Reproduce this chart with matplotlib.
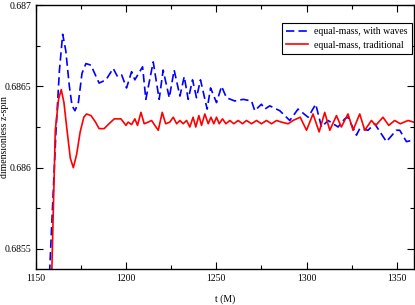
import matplotlib
matplotlib.use("Agg")
import matplotlib.pyplot as plt
from matplotlib.ticker import MultipleLocator, FuncFormatter

plt.rcParams['font.family'] = ['Liberation Serif', 'DejaVu Serif']

# equal-mass, traditional (red)
t_trad = [1158.4, 1160.7, 1162.5, 1164.0, 1165.5, 1167.0, 1169.0, 1170.7, 1172.5,
          1174.5, 1176.5, 1178.0, 1180.5, 1183.0, 1185.0, 1187.8, 1190.5, 1193.4,
          1197.1, 1199.9, 1201.1, 1203.0, 1204.8, 1206.3, 1208.2, 1210.0, 1212.2,
          1214.1, 1215.9, 1217.8, 1220.0, 1221.9, 1224.2, 1226.1, 1228.0, 1229.8,
          1231.6, 1233.5, 1235.3, 1237.1, 1238.6, 1240.3, 1241.8, 1243.6, 1245.5,
          1247.0, 1248.6, 1250.1, 1251.6, 1253.4, 1255.3, 1257.5, 1259.7, 1262.1,
          1264.5, 1266.7, 1269.5, 1272.3, 1275.0, 1277.8, 1280.6, 1283.4, 1286.1,
          1289.8, 1292.5, 1296.5, 1300.0, 1303.6, 1307.0, 1310.1, 1312.9, 1316.6,
          1319.3, 1323.0, 1325.8, 1329.5, 1332.3, 1336.0, 1338.4, 1342.4, 1345.6,
          1348.9, 1352.0, 1356.3, 1359.4]
s_trad = [0.68520, 0.68623, 0.68642, 0.68648, 0.68640, 0.68625, 0.68606, 0.68600, 0.68608,
          0.68622, 0.68631, 0.68633, 0.68632, 0.68628, 0.68624, 0.68624, 0.68627, 0.68630,
          0.68630, 0.68626, 0.68628, 0.686265, 0.68630, 0.68626, 0.68634, 0.68627, 0.68628,
          0.68629, 0.68626, 0.68623, 0.68634, 0.68627, 0.68628, 0.68631, 0.68627, 0.68629,
          0.68627, 0.68629, 0.68625, 0.68631, 0.68625, 0.68632, 0.68626, 0.68633, 0.68627,
          0.68631, 0.68627, 0.68631, 0.68627, 0.68630, 0.68627, 0.68629, 0.68627, 0.68629,
          0.68627, 0.68629, 0.68627, 0.68629, 0.68627, 0.68629, 0.68627, 0.68629, 0.68628,
          0.68627, 0.68629, 0.68631, 0.68623, 0.68633, 0.68622, 0.68634, 0.68623, 0.68632,
          0.68625, 0.68633, 0.68623, 0.68633, 0.68623, 0.68629, 0.68626, 0.68631, 0.68626,
          0.68629, 0.68627, 0.68629, 0.68628]

# equal-mass, with waves (blue dashed)
t_waves = [1156.9, 1161.1, 1163.0, 1164.8, 1166.5, 1168.5, 1170.0, 1171.6, 1173.5,
           1175.5, 1177.7, 1180.5, 1182.5, 1185.0, 1188.8, 1192.8, 1195.2, 1197.5,
           1200.2, 1203.0, 1204.8, 1209.1, 1210.9, 1215.0, 1218.3, 1220.5, 1223.9,
           1226.6, 1229.8, 1232.2, 1234.4, 1236.8, 1239.0, 1241.2, 1244.9, 1246.8,
           1250.1, 1252.9, 1255.6, 1260.2, 1264.9, 1269.5, 1271.3, 1275.0, 1276.9,
           1279.6, 1285.2, 1290.7, 1295.3, 1300.9, 1305.1, 1308.3, 1312.0, 1317.5,
           1321.2, 1323.0, 1327.7, 1329.5, 1334.1, 1337.8, 1344.3, 1349.8, 1351.7,
           1355.4, 1359.4]
s_waves = [0.68520, 0.68623, 0.68660, 0.68682, 0.68672, 0.68650, 0.68638, 0.68635, 0.68640,
           0.68658, 0.68664, 0.68663, 0.68658, 0.68652, 0.68654, 0.68661, 0.68656, 0.68657,
           0.68649, 0.68659, 0.68654, 0.68662, 0.68642, 0.68665, 0.68642, 0.68660, 0.68643,
           0.68660, 0.68644, 0.68656, 0.68642, 0.68654, 0.68643, 0.68654, 0.68636, 0.68649,
           0.68640, 0.68650, 0.68643, 0.68641, 0.68642, 0.68641, 0.68635, 0.68639, 0.68636,
           0.68638, 0.68635, 0.68629, 0.68636, 0.68631, 0.68639, 0.68625, 0.68629, 0.68625,
           0.68630, 0.68631, 0.68620, 0.68624, 0.68623, 0.68627, 0.68616, 0.68623, 0.68623,
           0.68616, 0.68617]

fig = plt.figure(figsize=(4.15, 3.05), dpi=100)
ax = fig.add_axes([36 / 415, 1 - 269 / 305, 378 / 415, 264 / 305])

ax.plot(t_waves, s_waves, color='#0000ff', linestyle=(0, (5, 2.5)), linewidth=1.2,
        label='equal-mass, with waves')
ax.plot(t_trad, s_trad, color='#ff0000', linewidth=1.2, label='equal-mass, traditional')

ax.set_xlim(1150, 1359.6)
ax.set_ylim(0.685377, 0.687)

ax.xaxis.set_major_locator(MultipleLocator(50))
ax.xaxis.set_minor_locator(MultipleLocator(25))
ax.yaxis.set_major_locator(MultipleLocator(0.0005))
ax.yaxis.set_minor_locator(MultipleLocator(0.00025))
ax.yaxis.set_major_formatter(FuncFormatter(lambda v, p: '%g' % round(v, 5)))

ax.tick_params(which='both', direction='in', top=True, right=True, labelsize=7, width=0.8)
ax.tick_params(which='major', length=5)
ax.tick_params(which='minor', length=3)
for sp in ax.spines.values():
    sp.set_linewidth(1.0)

ax.set_xlabel('t (M)', fontsize=7, labelpad=8)
ax.set_ylabel('dimensionless z-spin', fontsize=7)
ax.yaxis.set_label_coords(-0.072, 0.5)

leg = ax.legend(loc='upper right', bbox_to_anchor=(0.995, 0.932), fontsize=7,
                fancybox=False, framealpha=1, edgecolor='black', borderaxespad=0,
                handlelength=2.3, handletextpad=0.6, borderpad=0.45, labelspacing=0.45)
leg.get_frame().set_linewidth(0.8)

fig.savefig('out.png', dpi=100)
